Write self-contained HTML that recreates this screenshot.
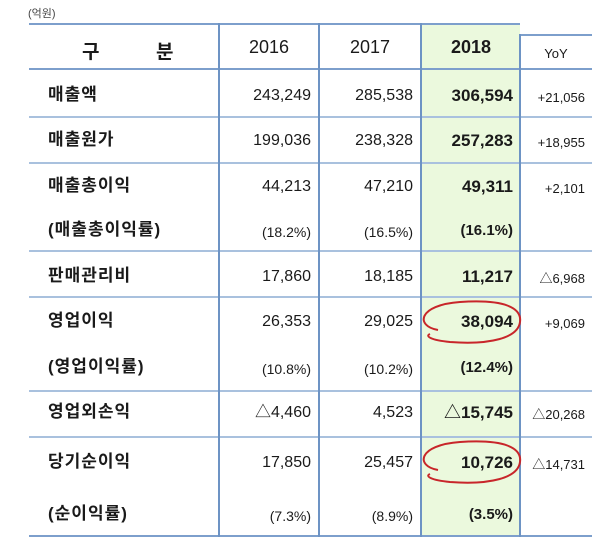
<!DOCTYPE html>
<html><head><meta charset="utf-8"><style>
body{margin:0;width:600px;height:550px;background:#fff;position:relative;overflow:hidden;font-family:"Liberation Sans","Noto Sans CJK KR",sans-serif;color:#1a1a1a}
.a{position:absolute}
.h{position:absolute;height:2px;background:#a9c1de;left:29px;width:563px}
.v{position:absolute;width:2px;background:#6d93c4}
.lab{position:absolute;left:48px;font-weight:bold;font-size:17px;line-height:20px;letter-spacing:1px}
.num{position:absolute;font-size:16px;line-height:20px;text-align:right}
.c1{left:219px;width:92px}.c2{left:319px;width:94px}.c3{left:421px;width:92px;font-weight:bold;font-size:17px}.c4{left:520px;width:65px;font-size:13px}
.pct{font-size:14px}
</style></head><body>
<div class="a" style="left:28px;top:5px;font-size:11px;color:#444">(억원)</div>
<div class="a" style="left:421px;top:25px;width:99px;height:511px;background:#ebf9dd"></div>
<div class="h" style="top:23px;background:#7d9fcc;width:491px"></div>
<div class="h" style="top:34px;left:520px;width:72px;background:#7d9fcc"></div>
<div class="h" style="top:68px;background:#7d9fcc"></div>
<div class="h" style="top:116px"></div>
<div class="h" style="top:162px"></div>
<div class="h" style="top:250px"></div>
<div class="h" style="top:296px"></div>
<div class="h" style="top:390px"></div>
<div class="h" style="top:436px"></div>
<div class="h" style="top:535px;background:#7d9fcc"></div>
<div class="v" style="left:218px;top:23px;height:514px"></div>
<div class="v" style="left:318px;top:23px;height:514px"></div>
<div class="v" style="left:420px;top:23px;height:514px"></div>
<div class="v" style="left:519px;top:34px;height:503px"></div>

<div class="a" style="left:82px;top:37px;font-size:19px;font-weight:bold">구</div>
<div class="a" style="left:156px;top:37px;font-size:19px;font-weight:bold">분</div>
<div class="num c1" style="top:37px;font-size:18px;text-align:center;width:100px">2016</div>
<div class="num c2" style="top:37px;font-size:18px;text-align:center;width:102px">2017</div>
<div class="num c3" style="top:37px;font-size:18px;text-align:center;width:100px">2018</div>
<div class="num c4" style="top:44px;text-align:center;width:72px">YoY</div>

<div class="lab" style="top:85px">매출액</div>
<div class="num c1" style="top:86px">243,249</div><div class="num c2" style="top:86px">285,538</div><div class="num c3" style="top:86px">306,594</div><div class="num c4" style="top:88px">+21,056</div>

<div class="lab" style="top:130px">매출원가</div>
<div class="num c1" style="top:131px">199,036</div><div class="num c2" style="top:131px">238,328</div><div class="num c3" style="top:131px">257,283</div><div class="num c4" style="top:133px">+18,955</div>

<div class="lab" style="top:176px">매출총이익</div>
<div class="num c1" style="top:177px">44,213</div><div class="num c2" style="top:177px">47,210</div><div class="num c3" style="top:177px">49,311</div><div class="num c4" style="top:179px">+2,101</div>
<div class="lab" style="top:220px">(매출총이익률)</div>
<div class="num c1 pct" style="top:222px">(18.2%)</div><div class="num c2 pct" style="top:222px">(16.5%)</div><div class="num c3" style="top:221px;font-size:15px">(16.1%)</div>

<div class="lab" style="top:266px">판매관리비</div>
<div class="num c1" style="top:267px">17,860</div><div class="num c2" style="top:267px">18,185</div><div class="num c3" style="top:267px">11,217</div><div class="num c4" style="top:269px">△6,968</div>

<div class="lab" style="top:311px">영업이익</div>
<div class="num c1" style="top:312px">26,353</div><div class="num c2" style="top:312px">29,025</div><div class="num c3" style="top:312px">38,094</div><div class="num c4" style="top:314px">+9,069</div>
<div class="lab" style="top:357px">(영업이익률)</div>
<div class="num c1 pct" style="top:359px">(10.8%)</div><div class="num c2 pct" style="top:359px">(10.2%)</div><div class="num c3" style="top:358px;font-size:15px">(12.4%)</div>

<div class="lab" style="top:402px">영업외손익</div>
<div class="num c1" style="top:403px">△4,460</div><div class="num c2" style="top:403px">4,523</div><div class="num c3" style="top:403px">△15,745</div><div class="num c4" style="top:405px">△20,268</div>

<div class="lab" style="top:452px">당기순이익</div>
<div class="num c1" style="top:453px">17,850</div><div class="num c2" style="top:453px">25,457</div><div class="num c3" style="top:453px">10,726</div><div class="num c4" style="top:455px">△14,731</div>
<div class="lab" style="top:504px">(순이익률)</div>
<div class="num c1 pct" style="top:506px">(7.3%)</div><div class="num c2 pct" style="top:506px">(8.9%)</div><div class="num c3" style="top:505px;font-size:15px">(3.5%)</div>

<svg class="a" style="left:0;top:0" width="600" height="550">
<path d="M438 330 C415 326 418 305 460 302 C505 299 522 308 520 322 C518 338 490 345 450 342 C430 340 425 336 430 334" fill="none" stroke="#c8262a" stroke-width="2"/>
<path d="M438 470 C415 466 418 445 460 442 C505 439 522 448 520 462 C518 478 490 485 450 482 C430 480 425 476 430 474" fill="none" stroke="#c8262a" stroke-width="2"/>
</svg>
</body></html>
